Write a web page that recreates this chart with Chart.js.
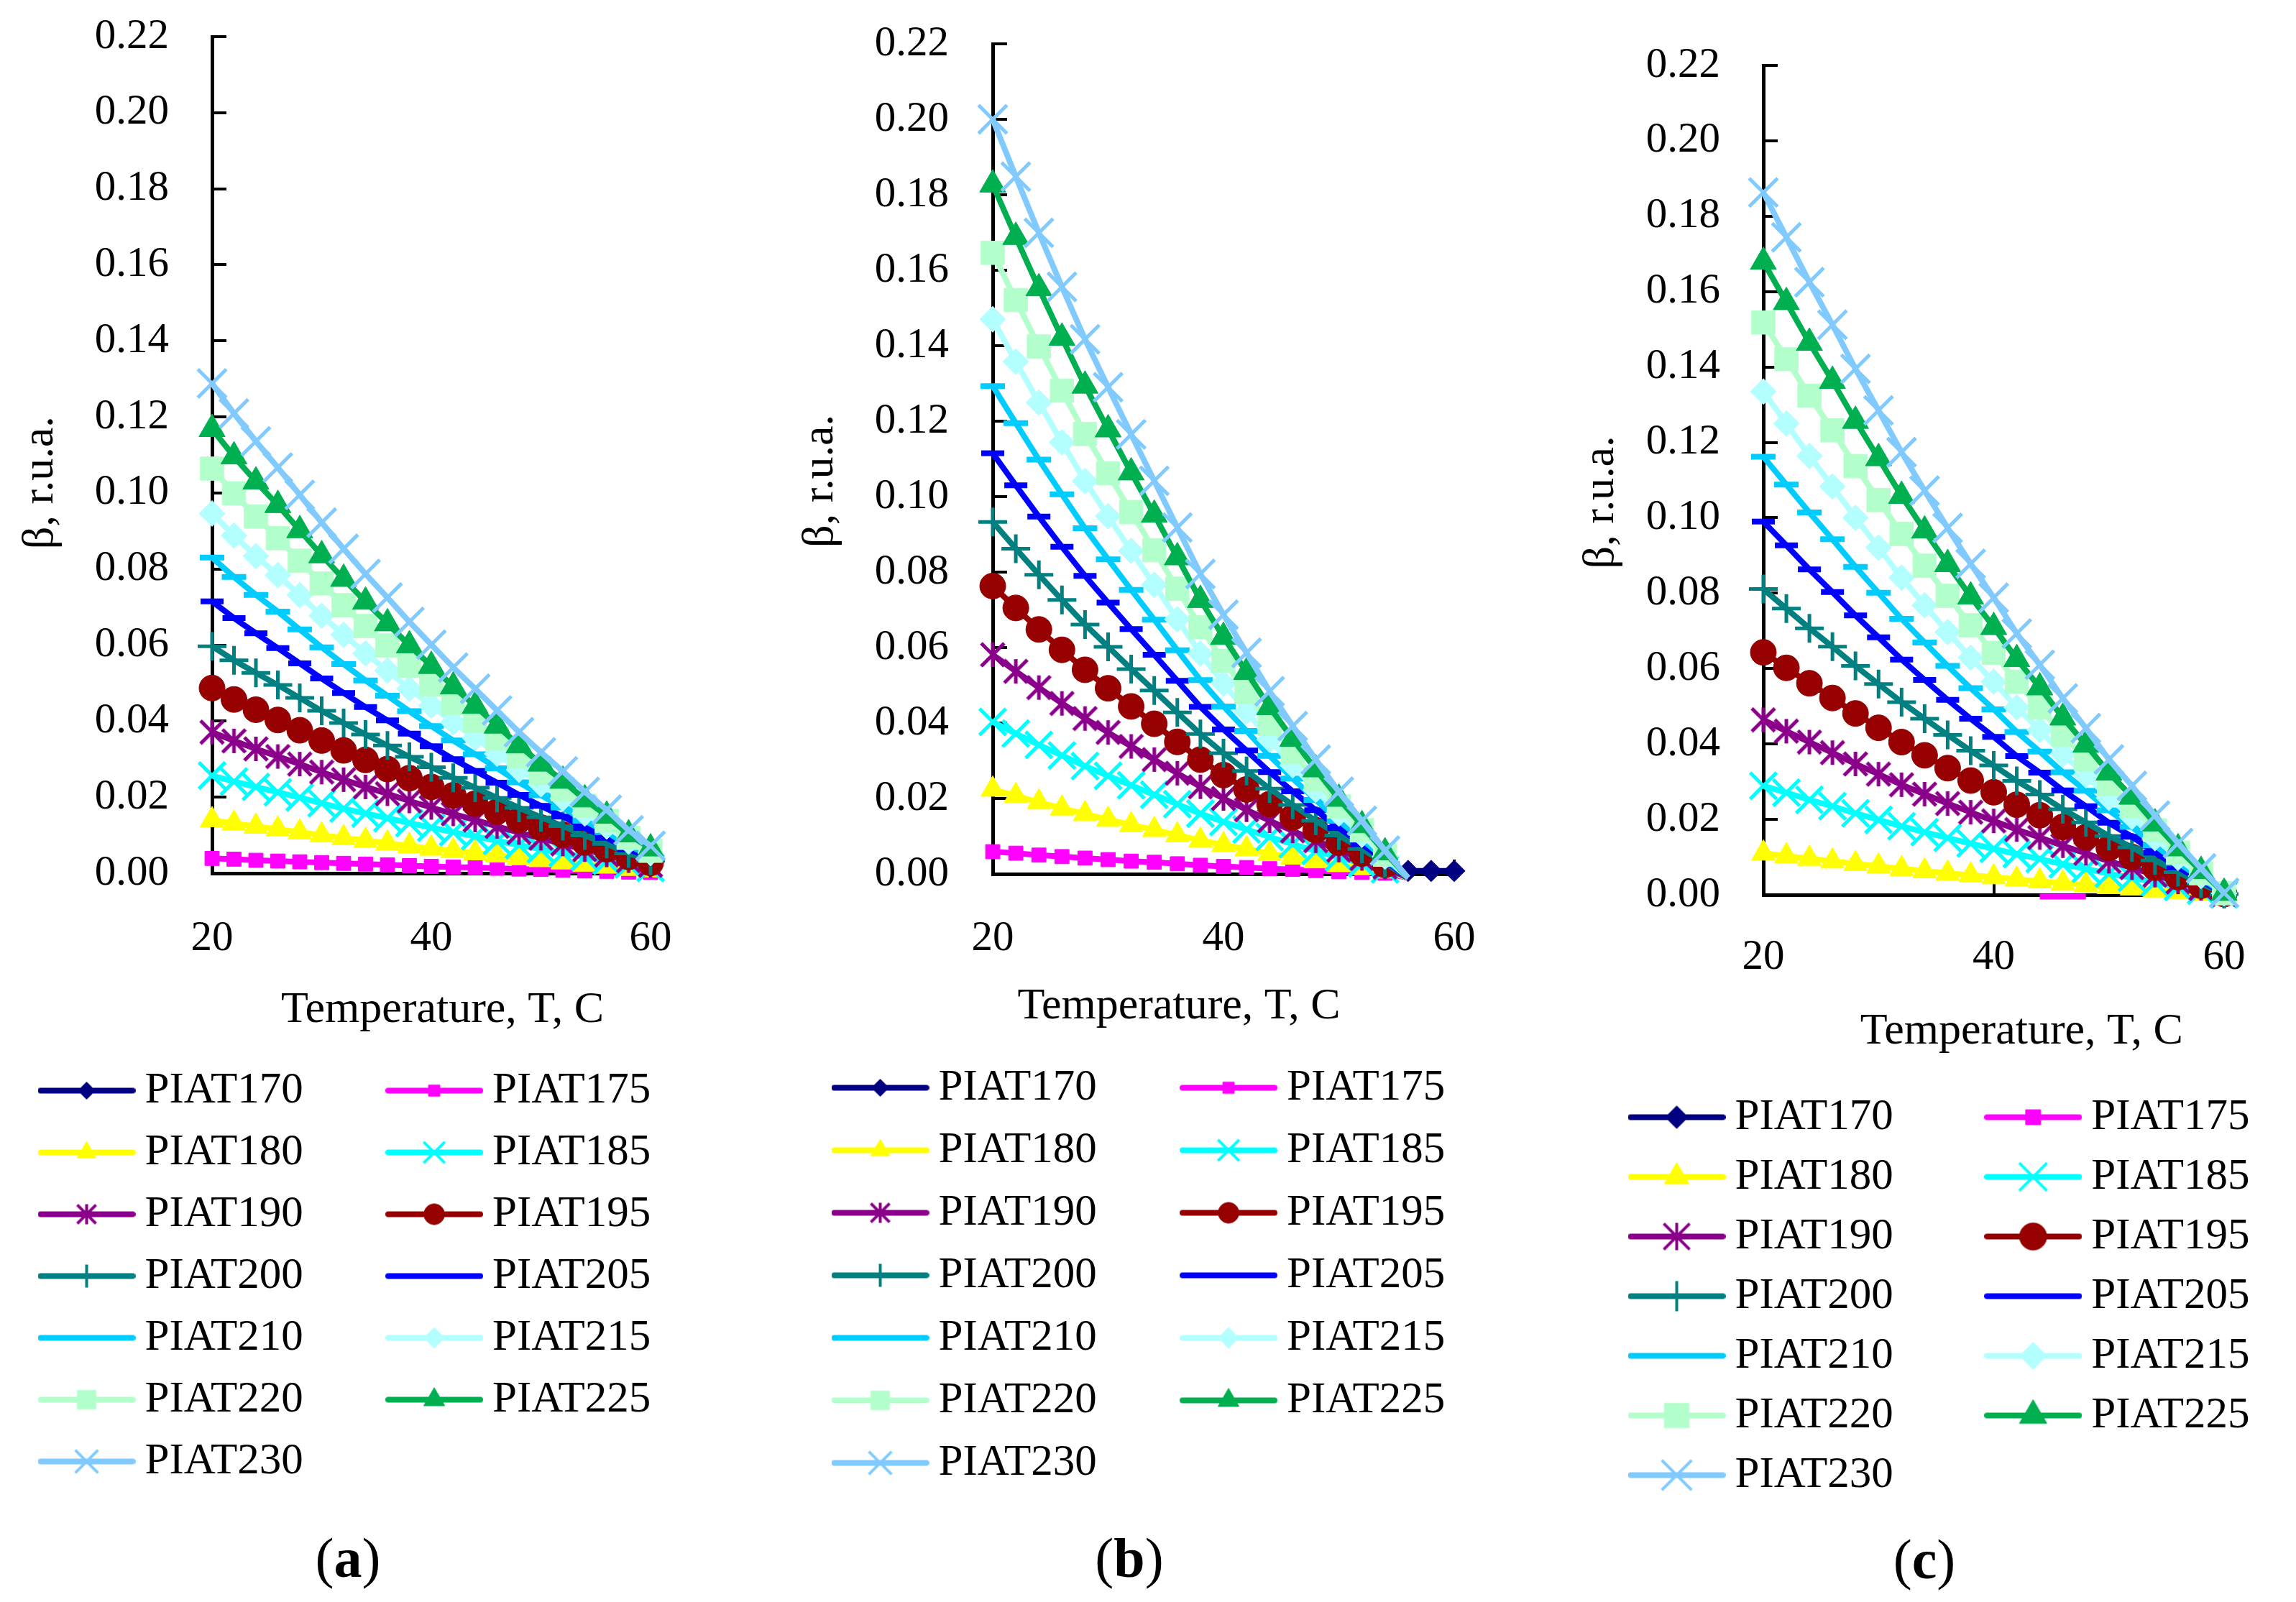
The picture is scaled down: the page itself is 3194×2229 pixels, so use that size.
<!DOCTYPE html>
<html>
<head>
<meta charset="utf-8">
<title>β vs temperature for the PIAT series</title>
<script src="https://cdn.jsdelivr.net/npm/chart.js@4.4.1/dist/chart.umd.min.js"></script>
<style>
  html, body { margin: 0; padding: 0; background: #fff; width: 3194px; height: 2229px; overflow: hidden; }
  .panel { position: absolute; top: 0; }
  .tag { position: absolute; font-family: 'Liberation Serif', serif; font-size: 78px; line-height: 1; color: #000; transform: translate(-50%, -50%); white-space: nowrap; }
</style>
</head>
<body>
<canvas class="panel" id="chartA" width="1060" height="2074" style="left:0px"></canvas>
<canvas class="panel" id="chartB" width="1065" height="2076" style="left:1100px"></canvas>
<canvas class="panel" id="chartC" width="1105" height="2093" style="left:2190px"></canvas>
<div class="tag" style="left:484px;top:2168px">(<b>a</b>)</div>
<div class="tag" style="left:1571px;top:2168px">(<b>b</b>)</div>
<div class="tag" style="left:2677px;top:2170px">(<b>c</b>)</div>
<script>
// --- 1. DATA ---
const tempsC = [20, 22, 24, 26, 28, 30, 32, 34, 36, 38, 40, 42, 44, 46, 48, 50, 52, 54, 56, 58, 60];
const seriesNames = ['PIAT170', 'PIAT175', 'PIAT180', 'PIAT185', 'PIAT190', 'PIAT195', 'PIAT200',
                     'PIAT205', 'PIAT210', 'PIAT215', 'PIAT220', 'PIAT225', 'PIAT230'];
const xTickValues = [20, 40, 60];
const yTickLabels = ['0.00', '0.02', '0.04', '0.06', '0.08', '0.10', '0.12', '0.14', '0.16', '0.18', '0.20', '0.22'];

// panel (a)
const a170 = [];
const a175 = [0.0039, 0.0037, 0.0034, 0.0032, 0.0030, 0.0028, 0.0026, 0.0024, 0.0022, 0.0020, 0.0018, 0.0016, 0.0015, 0.0013, 0.0011, 0.0010, 0.0008, 0.0006, 0.0005, 0.0003, 0.0002];
const a180 = [0.0140, 0.0131, 0.0123, 0.0116, 0.0108, 0.0100, 0.0093, 0.0086, 0.0079, 0.0072, 0.0065, 0.0059, 0.0053, 0.0047, 0.0040, 0.0035, 0.0029, 0.0023, 0.0018, 0.0012, 0.0008];
const a185 = [0.0257, 0.0241, 0.0227, 0.0213, 0.0199, 0.0184, 0.0170, 0.0157, 0.0145, 0.0132, 0.0120, 0.0108, 0.0097, 0.0085, 0.0074, 0.0063, 0.0053, 0.0043, 0.0033, 0.0023, 0.0014];
const a190 = [0.0371, 0.0348, 0.0327, 0.0307, 0.0287, 0.0266, 0.0246, 0.0227, 0.0209, 0.0190, 0.0173, 0.0156, 0.0140, 0.0123, 0.0107, 0.0092, 0.0077, 0.0062, 0.0048, 0.0033, 0.0021];
const a195 = [0.0487, 0.0457, 0.0430, 0.0403, 0.0376, 0.0349, 0.0323, 0.0298, 0.0274, 0.0250, 0.0227, 0.0205, 0.0183, 0.0162, 0.0140, 0.0120, 0.0101, 0.0081, 0.0063, 0.0043, 0.0027];
const a200 = [0.0597, 0.0560, 0.0527, 0.0495, 0.0461, 0.0427, 0.0395, 0.0365, 0.0336, 0.0306, 0.0279, 0.0251, 0.0225, 0.0198, 0.0172, 0.0147, 0.0124, 0.0099, 0.0077, 0.0052, 0.0033];
const a205 = [0.0715, 0.0671, 0.0631, 0.0592, 0.0552, 0.0512, 0.0474, 0.0437, 0.0402, 0.0367, 0.0334, 0.0300, 0.0269, 0.0238, 0.0206, 0.0177, 0.0149, 0.0119, 0.0093, 0.0063, 0.0040];
const a210 = [0.0830, 0.0779, 0.0732, 0.0688, 0.0641, 0.0594, 0.0550, 0.0507, 0.0467, 0.0426, 0.0387, 0.0349, 0.0313, 0.0276, 0.0239, 0.0205, 0.0173, 0.0138, 0.0108, 0.0073, 0.0046];
const a215 = [0.0946, 0.0888, 0.0834, 0.0784, 0.0731, 0.0677, 0.0627, 0.0578, 0.0533, 0.0485, 0.0441, 0.0397, 0.0356, 0.0314, 0.0272, 0.0234, 0.0197, 0.0157, 0.0123, 0.0083, 0.0053];
const a220 = [0.1064, 0.0999, 0.0938, 0.0881, 0.0822, 0.0762, 0.0705, 0.0650, 0.0599, 0.0546, 0.0496, 0.0447, 0.0401, 0.0354, 0.0306, 0.0263, 0.0221, 0.0177, 0.0138, 0.0093, 0.0059];
const a225 = [0.1168, 0.1096, 0.1030, 0.0968, 0.0902, 0.0836, 0.0774, 0.0714, 0.0657, 0.0599, 0.0545, 0.0491, 0.0440, 0.0388, 0.0336, 0.0288, 0.0243, 0.0194, 0.0151, 0.0102, 0.0065];
const a230 = [0.1288, 0.1209, 0.1136, 0.1067, 0.0995, 0.0922, 0.0853, 0.0787, 0.0725, 0.0661, 0.0601, 0.0541, 0.0485, 0.0428, 0.0371, 0.0318, 0.0268, 0.0214, 0.0167, 0.0113, 0.0072];

// panel (b): curves reach zero near 56 C, only PIAT170 is left above the axis after that
const b170 = [null, null, null, null, null, null, null, null, null, null, null, null, null, null, null, null, null, null, 0.0008, 0.0008, 0.0008];
const b175 = [0.0059, 0.0055, 0.0050, 0.0046, 0.0042, 0.0038, 0.0034, 0.0031, 0.0027, 0.0023, 0.0020, 0.0017, 0.0014, 0.0012, 0.0009, 0.0006, 0.0004, 0.0002, -0.001];
const b180 = [0.0224, 0.0207, 0.0190, 0.0174, 0.0159, 0.0144, 0.0130, 0.0117, 0.0103, 0.0089, 0.0077, 0.0066, 0.0054, 0.0044, 0.0034, 0.0024, 0.0016, 0.0007, -0.001];
const b185 = [0.0403, 0.0372, 0.0342, 0.0314, 0.0286, 0.0260, 0.0235, 0.0210, 0.0185, 0.0160, 0.0138, 0.0118, 0.0098, 0.0079, 0.0061, 0.0044, 0.0028, 0.0012, -0.001];
const b190 = [0.0581, 0.0537, 0.0494, 0.0452, 0.0412, 0.0375, 0.0338, 0.0303, 0.0267, 0.0231, 0.0200, 0.0170, 0.0141, 0.0114, 0.0088, 0.0063, 0.0041, 0.0018, -0.001];
const b195 = [0.0763, 0.0705, 0.0648, 0.0594, 0.0541, 0.0492, 0.0444, 0.0398, 0.0350, 0.0303, 0.0262, 0.0224, 0.0185, 0.0150, 0.0116, 0.0083, 0.0054, 0.0024, -0.001];
const b200 = [0.0933, 0.0862, 0.0793, 0.0726, 0.0661, 0.0602, 0.0543, 0.0486, 0.0428, 0.0371, 0.0320, 0.0273, 0.0226, 0.0183, 0.0141, 0.0102, 0.0066, 0.0029, -0.001];
const b205 = [0.1115, 0.1030, 0.0947, 0.0867, 0.0790, 0.0719, 0.0649, 0.0581, 0.0512, 0.0443, 0.0383, 0.0327, 0.0270, 0.0219, 0.0169, 0.0122, 0.0079, 0.0035, -0.001];
const b210 = [0.1293, 0.1195, 0.1098, 0.1006, 0.0916, 0.0834, 0.0753, 0.0674, 0.0593, 0.0514, 0.0444, 0.0379, 0.0313, 0.0253, 0.0196, 0.0141, 0.0091, 0.0040, -0.001];
const b215 = [0.1470, 0.1358, 0.1249, 0.1144, 0.1041, 0.0948, 0.0856, 0.0766, 0.0675, 0.0584, 0.0505, 0.0431, 0.0356, 0.0288, 0.0223, 0.0160, 0.0104, 0.0046, -0.001];
const b220 = [0.1646, 0.1521, 0.1398, 0.1281, 0.1166, 0.1062, 0.0959, 0.0858, 0.0756, 0.0654, 0.0565, 0.0482, 0.0398, 0.0323, 0.0249, 0.0179, 0.0116, 0.0051, -0.001];
const b225 = [0.1827, 0.1688, 0.1552, 0.1421, 0.1294, 0.1178, 0.1064, 0.0952, 0.0839, 0.0726, 0.0628, 0.0535, 0.0442, 0.0358, 0.0277, 0.0199, 0.0129, 0.0057, -0.001];
const b230 = [0.2000, 0.1848, 0.1699, 0.1556, 0.1417, 0.1290, 0.1165, 0.1042, 0.0918, 0.0795, 0.0687, 0.0586, 0.0484, 0.0392, 0.0303, 0.0218, 0.0141, 0.0062, -0.001];

// panel (c)
const c170 = [];
const c175 = [null, null, null, null, null, null, null, null, null, null, null, null, -0.0005, -0.0005, -0.0005];
const c180 = [0.0110, 0.0103, 0.0096, 0.0089, 0.0082, 0.0076, 0.0069, 0.0063, 0.0057, 0.0052, 0.0047, 0.0041, 0.0036, 0.0031, 0.0026, 0.0021, 0.0017, 0.0012, 0.0008, 0.0004, 0.0000];
const c185 = [0.0289, 0.0271, 0.0252, 0.0235, 0.0216, 0.0199, 0.0182, 0.0166, 0.0151, 0.0136, 0.0122, 0.0108, 0.0095, 0.0081, 0.0069, 0.0056, 0.0045, 0.0033, 0.0021, 0.0011, 0.0001];
const c190 = [0.0464, 0.0434, 0.0405, 0.0377, 0.0347, 0.0320, 0.0292, 0.0267, 0.0242, 0.0219, 0.0196, 0.0173, 0.0152, 0.0130, 0.0110, 0.0089, 0.0072, 0.0052, 0.0034, 0.0017, 0.0001];
const c195 = [0.0643, 0.0602, 0.0561, 0.0522, 0.0481, 0.0443, 0.0405, 0.0370, 0.0336, 0.0303, 0.0272, 0.0239, 0.0211, 0.0180, 0.0153, 0.0124, 0.0100, 0.0072, 0.0047, 0.0024, 0.0002];
const c200 = [0.0811, 0.0759, 0.0707, 0.0658, 0.0607, 0.0559, 0.0511, 0.0467, 0.0424, 0.0382, 0.0343, 0.0302, 0.0266, 0.0227, 0.0192, 0.0156, 0.0126, 0.0091, 0.0060, 0.0030, 0.0002];
const c205 = [0.0990, 0.0927, 0.0863, 0.0803, 0.0741, 0.0683, 0.0624, 0.0570, 0.0517, 0.0467, 0.0419, 0.0368, 0.0324, 0.0277, 0.0235, 0.0191, 0.0154, 0.0112, 0.0073, 0.0037, 0.0003];
const c210 = [0.1162, 0.1088, 0.1014, 0.0943, 0.0870, 0.0801, 0.0732, 0.0669, 0.0607, 0.0548, 0.0492, 0.0432, 0.0380, 0.0325, 0.0276, 0.0224, 0.0180, 0.0131, 0.0085, 0.0044, 0.0003];
const c215 = [0.1335, 0.1250, 0.1164, 0.1083, 0.1000, 0.0921, 0.0841, 0.0768, 0.0697, 0.0629, 0.0565, 0.0497, 0.0437, 0.0373, 0.0317, 0.0257, 0.0207, 0.0150, 0.0098, 0.0050, 0.0004];
const c220 = [0.1518, 0.1421, 0.1324, 0.1232, 0.1137, 0.1047, 0.0957, 0.0873, 0.0793, 0.0715, 0.0642, 0.0565, 0.0497, 0.0425, 0.0360, 0.0293, 0.0235, 0.0171, 0.0112, 0.0057, 0.0004];
const c225 = [0.1679, 0.1572, 0.1464, 0.1363, 0.1257, 0.1158, 0.1058, 0.0966, 0.0877, 0.0791, 0.0710, 0.0625, 0.0550, 0.0470, 0.0398, 0.0324, 0.0260, 0.0189, 0.0123, 0.0063, 0.0005];
const c230 = [0.1863, 0.1744, 0.1625, 0.1512, 0.1395, 0.1285, 0.1174, 0.1072, 0.0973, 0.0878, 0.0788, 0.0693, 0.0610, 0.0521, 0.0442, 0.0359, 0.0289, 0.0210, 0.0137, 0.0070, 0.0005];


// --- 2. LOOK (Excel-like colours and markers) ---
const SERIF = "'Liberation Serif', 'Times New Roman', serif";
Chart.defaults.font.family = SERIF;
Chart.defaults.color = '#000';

const palette = ['#000080', '#FF00FF', '#FFFF00', '#00FFFF', '#8B008B', '#960000', '#008080',
                 '#0000FF', '#00CCFF', '#B3FFFF', '#B3FFCC', '#00B050', '#80CAFF'];
const markers = [
    { style: 'rectRot',  radius: 15, width: 1 },
    { style: 'rect',     radius: 14, width: 1 },
    { style: 'triangle', radius: 19, width: 1 },
    { style: 'crossRot', radius: 26, width: 5 },
    { style: 'star',     radius: 18, width: 5 },
    { style: 'circle',   radius: 18, width: 1 },
    { style: 'cross',    radius: 20, width: 5 },
    { style: 'line',     radius: 16, width: 8 },
    { style: 'line',     radius: 17, width: 8 },
    { style: 'rectRot',  radius: 18, width: 1 },
    { style: 'rect',     radius: 23, width: 1 },
    { style: 'triangle', radius: 21, width: 1 },
    { style: 'crossRot', radius: 28, width: 5 }
];

// Excel "star" marker: an X with a vertical bar through it
function starImage(color, size, lw) {
    const c = document.createElement('canvas');
    c.width = size;
    c.height = size;
    const g = c.getContext('2d');
    const m = size / 2;
    const d = size / 2 - 2;
    g.strokeStyle = color;
    g.lineWidth = lw;
    g.beginPath();
    g.moveTo(m - d, m - d); g.lineTo(m + d, m + d);
    g.moveTo(m + d, m - d); g.lineTo(m - d, m + d);
    g.moveTo(m, m - d - 1); g.lineTo(m, m + d + 1);
    g.stroke();
    return c;
}

// legend sample: a short thick line with the marker in the middle
function legendIcon(i, scale) {
    const c = document.createElement('canvas');
    c.width = 136;
    c.height = 60;
    const g = c.getContext('2d');
    g.strokeStyle = palette[i];
    g.fillStyle = palette[i];
    g.lineWidth = 8;
    g.lineCap = 'round';
    g.beginPath();
    g.moveTo(4, 30);
    g.lineTo(132, 30);
    g.stroke();
    g.lineCap = 'butt';
    const mk = markers[i];
    if (mk.style === 'star') {
        const s = Math.round(38 * scale);
        g.drawImage(starImage(palette[i], s, 4), 68 - s / 2, 30 - s / 2);
    } else if (Chart.helpers && Chart.helpers.drawPoint) {
        g.lineWidth = Math.min(mk.width, 4);
        Chart.helpers.drawPoint(g, { pointStyle: mk.style, radius: mk.radius * scale, rotation: 0, borderWidth: mk.width }, 68, 30);
    }
    return c;
}


// --- 3. ONE CHART PER PANEL ---
function buildPanel(canvasId, series, geo) {
    const icons = seriesNames.map((_, i) => legendIcon(i, geo.iconScale));
    const datasets = seriesNames.map((name, i) => {
        const mk = markers[i];
        return {
            label: name,
            data: series[i].map((v, k) => ({ x: tempsC[k], y: v })),
            borderColor: palette[i],
            backgroundColor: palette[i],
            borderWidth: 8,
            tension: 0,
            clip: false,
            order: seriesNames.length - i,   // later series drawn on top, as in the original
            pointStyle: mk.style === 'star' ? starImage(palette[i], 36, 5) : mk.style,
            pointRadius: ctx => (ctx.parsed && ctx.parsed.y < 0 ? 0 : mk.radius),
            pointBorderWidth: mk.width,
            pointBackgroundColor: palette[i],
            pointBorderColor: palette[i]
        };
    });

    const axisLine = { display: true, color: '#000', width: 5 };
    const innerTicks = { display: true, drawOnChartArea: false, drawTicks: true, tickLength: -20, lineWidth: 4, color: '#000' };

    return new Chart(document.getElementById(canvasId), {
        type: 'line',
        data: { datasets },
        options: {
            responsive: false,
            animation: false,
            events: [],
            layout: { padding: { left: geo.padLeft, top: geo.padTop, right: 0, bottom: 0 } },
            scales: {
                x: {
                    type: 'linear',
                    position: 'bottom',
                    min: xTickValues[0],
                    max: xTickValues[xTickValues.length - 1],
                    afterFit: s => { s.height = geo.xAxisHeight; s.paddingLeft = 0; s.paddingRight = 0; },
                    afterBuildTicks: s => { s.ticks = xTickValues.map(v => ({ value: v })); },
                    border: axisLine,
                    grid: innerTicks,
                    ticks: {
                        padding: geo.xTickPad,
                        maxRotation: 0,
                        autoSkip: false,
                        color: '#000',
                        font: { size: 59 },
                        callback: v => String(v)
                    },
                    title: {
                        display: true,
                        text: geo.xTitle,
                        color: '#000',
                        font: { size: 62 },
                        padding: { top: 0, bottom: geo.xTitlePad }
                    }
                },
                y: {
                    type: 'linear',
                    position: 'left',
                    min: 0,
                    max: 0.22,
                    // tick padding would otherwise be added above the plot, so drop it after the fit
                    afterFit: s => { s.width = geo.yAxisWidth; s.paddingTop = 0; s.paddingBottom = 0; },
                    afterBuildTicks: s => { s.ticks = yTickLabels.map(t => ({ value: Number(t) })); },
                    border: axisLine,
                    grid: innerTicks,
                    ticks: {
                        padding: geo.yTickPad,
                        autoSkip: false,
                        color: '#000',
                        font: { size: 59 },
                        callback: (v, idx) => yTickLabels[idx]
                    },
                    title: {
                        display: true,
                        text: geo.yTitle,
                        color: '#000',
                        font: { size: 62 },
                        padding: { top: geo.yTitlePad, bottom: 0 }
                    }
                },
                // empty axis on the right that only reserves room, so the legend can be wider than the plot
                spacer: {
                    type: 'linear',
                    position: 'right',
                    display: true,
                    afterFit: s => { s.width = geo.rightWidth; s.paddingTop = 0; s.paddingBottom = 0; },
                    grid: { display: false, drawTicks: false },
                    border: { display: false },
                    ticks: { display: false },
                    title: { display: false }
                }
            },
            plugins: {
                legend: {
                    position: 'bottom',
                    align: 'start',
                    labels: {
                        usePointStyle: true,
                        pointStyleWidth: 101,
                        padding: geo.legendPad,
                        color: '#000',
                        font: { size: 61 },
                        generateLabels: chart => chart.data.datasets.map((ds, i) => ({
                            text: ds.label + ' '.repeat(geo.labelSpaces),
                            pointStyle: icons[i],
                            rotation: 0,
                            datasetIndex: i,
                            hidden: false,
                            fillStyle: palette[i],
                            strokeStyle: palette[i],
                            lineWidth: 0,
                            fontColor: '#000'
                        }))
                    }
                },
                tooltip: { enabled: false }
            }
        }
    });
}

buildPanel('chartA',
    [a170, a175, a180, a185, a190, a195, a200, a205, a210, a215, a220, a225, a230],
    { padLeft: 45, padTop: 51, yAxisWidth: 250, xAxisHeight: 247, rightWidth: 155,
      xTickPad: 76, yTickPad: 80, xTitle: '  Temperature, T, C', xTitlePad: 19,
      yTitle: 'β, r.u.a.     ', yTitlePad: -25, legendPad: 25, labelSpaces: 7, iconScale: 0.8 });

buildPanel('chartB',
    [b170, b175, b180, b185, b190, b195, b200, b205, b210, b215, b220, b225, b230],
    { padLeft: 48, padTop: 61, yAxisWidth: 233, xAxisHeight: 241, rightWidth: 142,
      xTickPad: 75, yTickPad: 81, xTitle: 'Temperature, T, C        ', xTitlePad: 19,
      yTitle: 'β, r.u.a.    ', yTitlePad: -43, legendPad: 26, labelSpaces: 7, iconScale: 0.8 });

buildPanel('chartC',
    [c170, c175, c180, c185, c190, c195, c200, c205, c210, c215, c220, c225, c230],
    { padLeft: 70, padTop: 91, yAxisWidth: 193, xAxisHeight: 257, rightWidth: 201,
      xTickPad: 72, yTickPad: 80, xTitle: '     Temperature, T, C', xTitlePad: 29,
      yTitle: 'β, r.u.a.    ', yTitlePad: -69, legendPad: 22, labelSpaces: 8, iconScale: 1.05 });
</script>
</body>
</html>
